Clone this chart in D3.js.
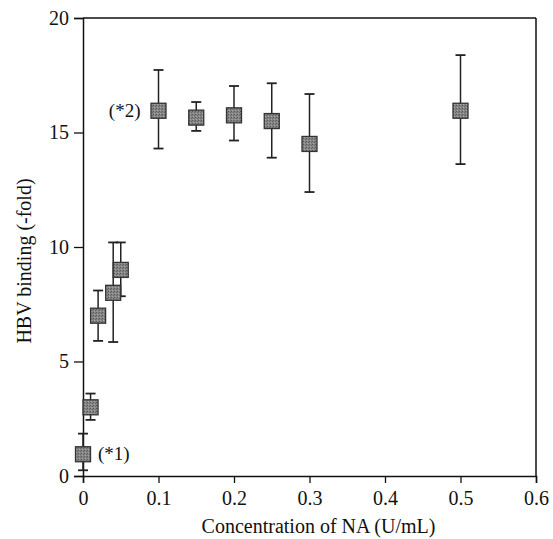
<!DOCTYPE html>
<html>
<head>
<meta charset="utf-8">
<script src="https://cdn.jsdelivr.net/npm/d3@7"></script>
<style>
  html, body { margin: 0; padding: 0; background: #fff; }
  svg { display: block; }
  text { font-family: "Liberation Serif", "Times New Roman", serif; fill: #111; }
</style>
</head>
<body>
<svg id="chart" width="553" height="539"></svg>
<script>
// Data
const concentrations = [0, 0.01, 0.02, 0.04, 0.05, 0.1, 0.15, 0.2, 0.25, 0.3, 0.5];
const bindingMean    = [0.95, 3.0, 7.0, 8.0, 9.0, 15.95, 15.65, 15.75, 15.5, 14.5, 15.95];
const errorLow       = [0.25, 2.45, 5.9, 5.85, 7.85, 14.3, 15.07, 14.65, 13.9, 12.4, 13.62];
const errorHigh      = [1.85, 3.6, 8.1, 10.2, 10.2, 17.73, 16.33, 17.03, 17.15, 16.68, 18.38];
const xTicks = [0, 0.1, 0.2, 0.3, 0.4, 0.5, 0.6];
const yTicks = [0, 5, 10, 15, 20];
const xTickLabels = ["0", "0.1", "0.2", "0.3", "0.4", "0.5", "0.6"];
const yTickLabels = ["0", "5", "10", "15", "20"];
const annotations = [
  { label: "(*1)", index: 0, side: "right" },
  { label: "(*2)", index: 5, side: "left" }
];

const svg = d3.select("#chart");
const margin = { top: 18, right: 17, bottom: 63, left: 83 };
const W = 553, H = 539;
const iw = W - margin.left - margin.right;
const ih = H - margin.top - margin.bottom;

const x = d3.scaleLinear().domain([0, 0.6]).range([margin.left, margin.left + iw]);
const y = d3.scaleLinear().domain([0, 20]).range([margin.top + ih, margin.top]);

const g = svg.append("g");

// Frame (top and right)
g.append("line").attr("x1", x(0)).attr("x2", x(0.6)).attr("y1", y(20)).attr("y2", y(20))
  .attr("stroke", "#111").attr("stroke-width", 1.5);
g.append("line").attr("x1", x(0.6)).attr("x2", x(0.6)).attr("y1", y(20)).attr("y2", y(0))
  .attr("stroke", "#111").attr("stroke-width", 1.5);

// Axes
const xAxis = d3.axisBottom(x).tickValues(xTicks)
  .tickFormat((d, i) => xTickLabels[i]).tickSizeOuter(0).tickSize(7).tickPadding(8);
const yAxis = d3.axisLeft(y).tickValues(yTicks)
  .tickFormat((d, i) => yTickLabels[i]).tickSizeOuter(0).tickSize(9).tickPadding(5);

const gx = g.append("g").attr("transform", `translate(0,${y(0)})`).call(xAxis);
const gy = g.append("g").attr("transform", `translate(${x(0)},0)`).call(yAxis);
[gx, gy].forEach(a => {
  a.select(".domain").attr("stroke", "#111").attr("stroke-width", 1.5);
  a.selectAll(".tick line").attr("stroke", "#111").attr("stroke-width", 1.3);
  a.selectAll(".tick text").style("font-size", "20px").style("font-family", "Liberation Serif").attr("fill", "#111");
});

// Axis titles
g.append("text")
  .attr("x", (x(0) + x(0.6)) / 2 + 9)
  .attr("y", 533)
  .attr("text-anchor", "middle")
  .style("font-size", "20px")
  .text("Concentration of NA (U/mL)");

g.append("text")
  .attr("transform", `translate(31,${(y(0) + y(20)) / 2 + 14}) rotate(-90)`)
  .attr("text-anchor", "middle")
  .style("font-size", "20px")
  .text("HBV binding (-fold)");

// Pattern for speckled marker fill
const defs = svg.append("defs");
const pat = defs.append("pattern").attr("id", "speck").attr("patternUnits", "userSpaceOnUse")
  .attr("width", 3).attr("height", 3);
pat.append("rect").attr("width", 3).attr("height", 3).attr("fill", "#868686");
pat.append("rect").attr("x", 0).attr("y", 0).attr("width", 1).attr("height", 1).attr("fill", "#555");
pat.append("rect").attr("x", 2).attr("y", 1).attr("width", 1).attr("height", 1).attr("fill", "#666");
pat.append("rect").attr("x", 1).attr("y", 2).attr("width", 1).attr("height", 1).attr("fill", "#a5a5a5");

const data = concentrations.map((c, i) => ({
  c, m: bindingMean[i], lo: errorLow[i], hi: errorHigh[i]
}));

// Error bars
const eb = g.append("g");
const cap = 5;
data.forEach(d => {
  eb.append("line").attr("x1", x(d.c)).attr("x2", x(d.c)).attr("y1", y(d.lo)).attr("y2", y(d.hi))
    .attr("stroke", "#222").attr("stroke-width", 1.5);
  [d.lo, d.hi].forEach(v => {
    eb.append("line").attr("x1", x(d.c) - cap).attr("x2", x(d.c) + cap).attr("y1", y(v)).attr("y2", y(v))
      .attr("stroke", "#222").attr("stroke-width", 1.8);
  });
});

// Markers
const s = 15;
g.append("g").selectAll("rect").data(data).join("rect")
  .attr("x", d => x(d.c) - s / 2)
  .attr("y", d => y(d.m) - s / 2)
  .attr("width", s).attr("height", s)
  .attr("fill", "url(#speck)")
  .attr("stroke", "#333").attr("stroke-width", 1.3);

// Annotations
annotations.forEach(a => {
  const d = data[a.index];
  g.append("text")
    .attr("x", a.side === "right" ? x(d.c) + 15 : x(d.c) - 18)
    .attr("y", y(d.m) + 6)
    .attr("text-anchor", a.side === "right" ? "start" : "end")
    .style("font-size", "19px")
    .text(a.label);
});
</script>
</body>
</html>
